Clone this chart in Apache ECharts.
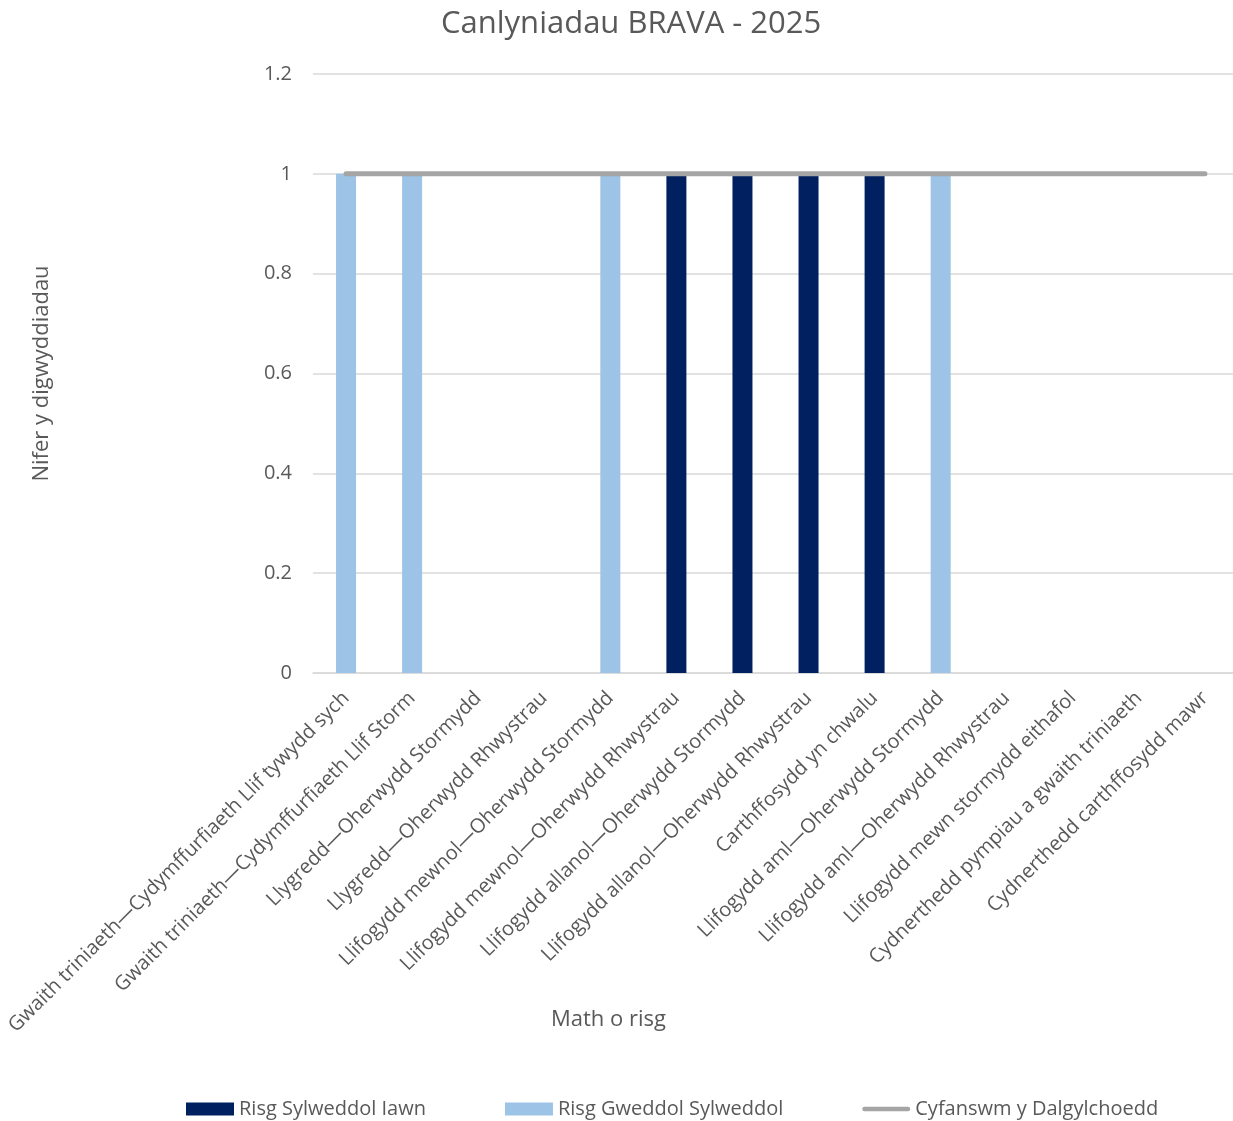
<!DOCTYPE html>
<html><head><meta charset="utf-8">
<script src="https://cdn.jsdelivr.net/npm/echarts@6/dist/echarts.min.js"></script>
<style>html,body{margin:0;padding:0;background:#fff;overflow:hidden}#c{width:1238px;height:1121px}</style>
</head><body><div id="c"></div>
<script>
const categories = [
  "Gwaith triniaeth—Cydymffurfiaeth Llif tywydd sych",
  "Gwaith triniaeth—Cydymffurfiaeth Llif Storm",
  "Llygredd—Oherwydd Stormydd",
  "Llygredd—Oherwydd Rhwystrau",
  "Llifogydd mewnol—Oherwydd Stormydd",
  "Llifogydd mewnol—Oherwydd Rhwystrau",
  "Llifogydd allanol—Oherwydd Stormydd",
  "Llifogydd allanol—Oherwydd Rhwystrau",
  "Carthffosydd yn chwalu",
  "Llifogydd aml—Oherwydd Stormydd",
  "Llifogydd aml—Oherwydd Rhwystrau",
  "Llifogydd mewn stormydd eithafol",
  "Cydnerthedd pympiau a gwaith triniaeth",
  "Cydnerthedd carthffosydd mawr"
];
const risgSylweddolIawn = [0,0,0,0,0,1,1,1,1,0,0,0,0,0];
const risgGweddolSylweddol = [1,1,0,0,1,0,0,0,0,1,0,0,0,0];
const cyfanswm = [1,1,1,1,1,1,1,1,1,1,1,1,1,1];
const seriesNames = ["Risg Sylweddol Iawn","Risg Gweddol Sylweddol","Cyfanswm y Dalgylchoedd"];

const FONT = "'Open Sans', sans-serif";
const chart = echarts.init(document.getElementById('c'));
chart.setOption({
  animation: false,
  title: {
    text: "Canlyniadau BRAVA - 2025",
    left: 436, top: 4,
    textStyle: {fontFamily: FONT, fontWeight: 'normal', fontSize: 31, color: '#595959'}
  },
  graphic: [{
    type: 'text', left: 551, top: 1009,
    style: {text: "Math o risg", fontFamily: FONT, fontSize: 22, fill: '#595959'}
  }],
  legend: {
    bottom: -3, left: 181, itemGap: 79, itemWidth: 48, itemHeight: 13,
    textStyle: {fontFamily: FONT, fontSize: 20, color: '#595959', padding: [0,0,0,0]},
    data: [
      {name: seriesNames[0], icon: 'rect'},
      {name: seriesNames[1], icon: 'rect'},
      {name: seriesNames[2], icon: 'path://M2,0 L50,0 A2.5,2.5 0 0 1 50,5 L2,5 A2.5,2.5 0 0 1 2,0 Z'}
    ]
  },
  grid: {left: 313, right: 0, top: 74, bottom: 448, containLabel: false},
  xAxis: {
    type: 'category', data: categories,
    axisLine: {lineStyle: {color: '#D9D9D9', width: 1.5}},
    axisTick: {show: false},
    axisLabel: {rotate: 45, interval: 0, margin: 22, fontFamily: FONT, fontSize: 20, color: '#595959'}
  },
  yAxis: {
    type: 'value', min: 0, max: 1.2, interval: 0.2,
    name: "Nifer y digwyddiadau", nameLocation: 'middle', nameGap: 260,
    nameTextStyle: {fontFamily: FONT, fontSize: 22, color: '#595959'},
    axisLabel: {fontFamily: FONT, fontSize: 20, color: '#595959', margin: 21,
      formatter: v => String(Math.round(v*10)/10)},
    splitLine: {lineStyle: {color: '#D9D9D9', width: 1.5}},
    axisLine: {show: false}, axisTick: {show: false}
  },
  series: [
    {name: seriesNames[0], type: 'bar', stack: 'r', data: risgSylweddolIawn, barWidth: 20,
     itemStyle: {color: '#002060'}},
    {name: seriesNames[1], type: 'bar', stack: 'r', data: risgGweddolSylweddol, barWidth: 20,
     itemStyle: {color: '#9DC3E6'}},
    {name: seriesNames[2], type: 'line', data: cyfanswm, symbol: 'none',
     lineStyle: {color: '#A5A5A5', width: 5, cap: 'round'}, itemStyle: {color: '#A5A5A5'}, z: 5}
  ]
});
</script></body></html>
